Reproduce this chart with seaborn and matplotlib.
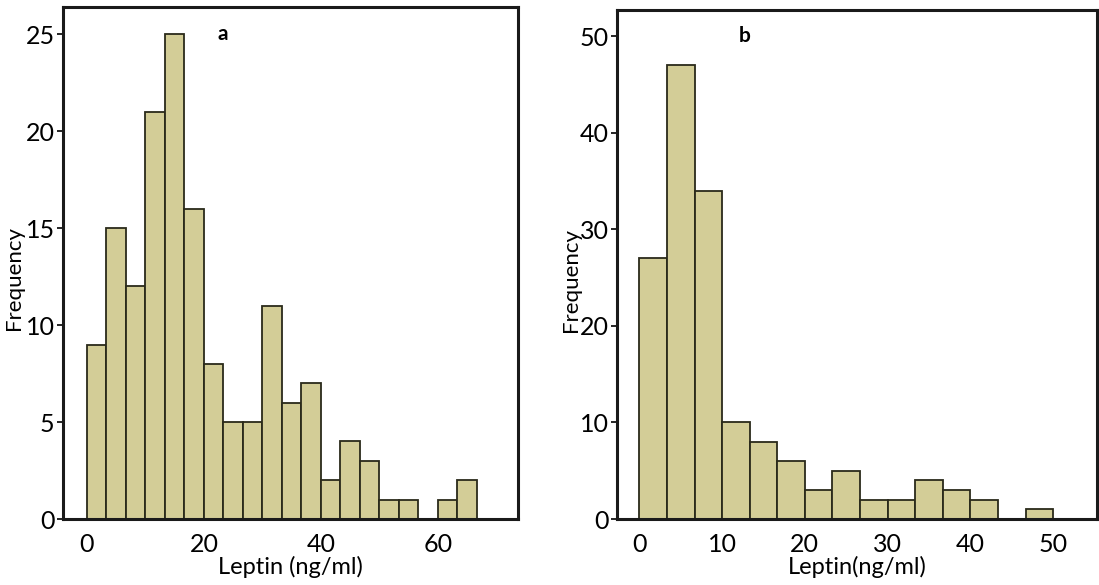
import numpy as np
import pandas as pd
import seaborn as sns
import matplotlib
matplotlib.use('Agg')
import matplotlib.pyplot as plt

# histogram counts, bins of 10/3 ng/ml starting at 0
bin_width = 10 / 3
counts_a = [9, 15, 12, 21, 25, 16, 8, 5, 5, 11, 6, 7, 2, 4, 3, 1, 1, 0, 1, 2]
counts_b = [27, 47, 34, 10, 8, 6, 3, 5, 2, 2, 4, 3, 2, 0, 1]
xticks_a = [0, 20, 40, 60]
yticks_a = [0, 5, 10, 15, 20, 25]
xticks_b = [0, 10, 20, 30, 40, 50]
yticks_b = [0, 10, 20, 30, 40, 50]

sns.set_style('white')
plt.rcParams['font.family'] = ['Lato', 'DejaVu Sans']
plt.rcParams['text.color'] = 'black'
plt.rcParams['axes.labelcolor'] = 'black'

fig = plt.figure(figsize=(10.99, 5.85), dpi=100)
ax_a = fig.add_axes([0.0573, 0.1128, 0.414, 0.875])
ax_b = fig.add_axes([0.5614, 0.1128, 0.4368, 0.870])

fill = '#d3cd97'


def draw(ax, counts, xticks, yticks, xlim, ylim, tag, tag_x, xlabel):
    nb = len(counts)
    mids = (np.arange(nb) + 0.5) * bin_width
    df = pd.DataFrame({'mid': mids, 'n': counts})
    sns.histplot(data=df, x='mid', weights='n', binwidth=bin_width,
                 binrange=(0, nb * bin_width), ax=ax,
                 color=fill, edgecolor='#2a2a1a', linewidth=1.3, alpha=1)
    ax.set_xlim(*xlim)
    ax.set_ylim(*ylim)
    ax.set_xticks(xticks)
    ax.set_yticks(yticks)
    ax.tick_params(axis='both', labelsize=18, length=4, width=1.2,
                   colors='black', direction='out', left=True, bottom=False)
    ax.tick_params(axis='x', pad=6)
    ax.tick_params(axis='y', pad=2)
    for s in ax.spines.values():
        s.set_linewidth(2.2)
        s.set_color('#1a1a1a')
    ax.set_xlabel(xlabel, fontsize=17, labelpad=0)
    ax.set_ylabel('Frequency', fontsize=16, labelpad=1)
    ax.yaxis.set_label_coords(-0.085, 0.47)
    ax.text(tag_x, yticks[-1], tag, fontsize=15, fontweight='bold',
            ha='center', va='center')


draw(ax_a, counts_a, xticks_a, yticks_a, (-4.1, 73.7), (0, 26.4), 'a', 23.3,
     'Leptin (ng/ml)')
draw(ax_b, counts_b, xticks_b, yticks_b, (-2.7, 55.3), (0, 52.7), 'b', 12.7,
     'Leptin(ng/ml)')
ax_b.yaxis.set_label_coords(-0.075, 0.47)

fig.savefig('out.png', dpi=100)
